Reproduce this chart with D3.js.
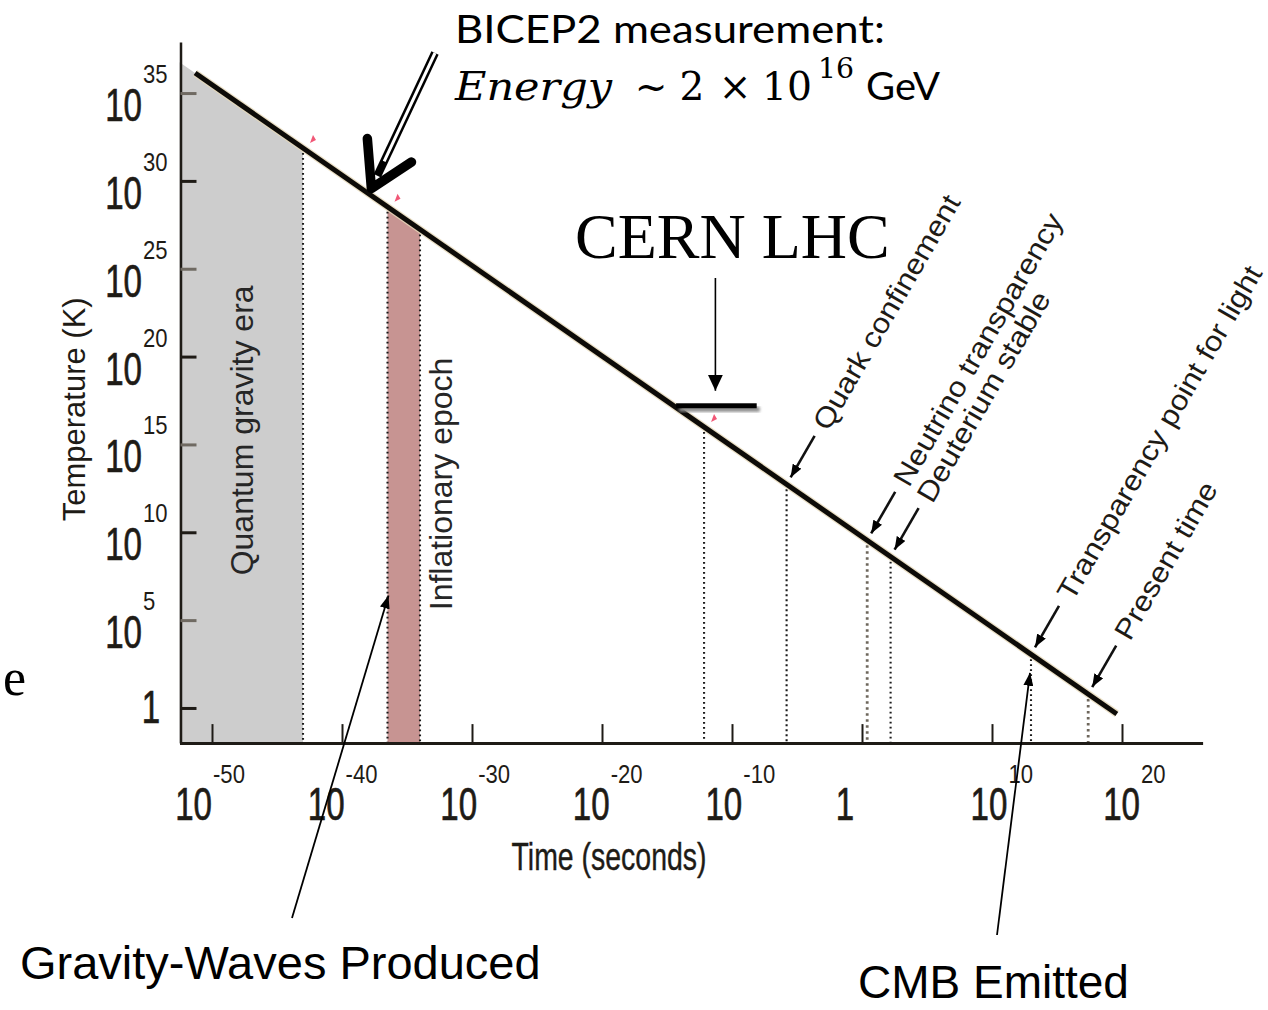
<!DOCTYPE html>
<html>
<head>
<meta charset="utf-8">
<script src="https://cdn.jsdelivr.net/npm/d3@7"></script>
<style>
  html, body { margin: 0; padding: 0; background: #fff; }
  svg { display: block; }
</style>
</head>
<body>
<svg id="chart" width="1268" height="1010"></svg>
<script>
// Temperature of the universe against time since the Big Bang (log10 units)
const timeTicks = [-50, -40, -30, -20, -10, 0, 10, 20];      // log10 seconds
const tempTicks = [0, 5, 10, 15, 20, 25, 30, 35];            // log10 kelvin

// Cooling line end points: log10 time (s) and log10 temperature (K)
const coolingTime = [-51.3, 19.6];
const coolingTemp = [36.14, -0.34];

// Shaded eras, [start, end] in log10 seconds
const quantumGravityEra = [-52.5, -43.0];
const inflationaryEpoch = [-36.5, -34.0];

// Labelled epochs along the line
const eventNames = ["Quark confinement", "Neutrino transparency", "Deuterium stable",
                    "Transparency point for light", "Present time"];
const eventTimes = [-5.8, 0.4, 2.2, 13.0, 17.4];

// Collider reach and the BICEP2 energy scale
const lhcTime = -12.15;          // log10 s
const lhcSpan = [-14.3, -8.1];   // log10 s, extent of the reach bar
const lhcTemp = 17.2;            // log10 K
const bicepTemp = 29.4;          // log10 K  (2e16 GeV)

const svg = d3.select("#chart");
const ink = "#1e1b16";
const axisFont = "'Liberation Sans', Arial, Helvetica, sans-serif";

const x = d3.scaleLinear().domain([-52.5, 26.2]).range([179.5, 1202.6]);
const y = d3.scaleLinear().domain([-2.0, 37.9]).range([743.1, 42.1]);
// tick labels sit on a slightly wider spacing than the tick marks
const xl = d3.scaleLinear().domain([-50, 20]).range([212, 1140]);
// straight cooling law, extended beyond its end points where needed
const cool = d3.scaleLinear().domain(coolingTime).range(coolingTemp);
const onLine = t => [x(t), y(cool(t))];

const defs = svg.append("defs");
function head(id, len, wid) {
  defs.append("marker")
    .attr("id", id).attr("markerUnits", "userSpaceOnUse")
    .attr("viewBox", `0 0 ${len} ${wid}`)
    .attr("refX", len).attr("refY", wid / 2)
    .attr("markerWidth", len).attr("markerHeight", wid)
    .attr("orient", "auto")
    .append("path").attr("d", `M0,0L${len},${wid / 2}L0,${wid}Z`).attr("fill", "#000");
}
head("headSmall", 13, 10);
head("headEvent", 13, 10);
head("headCern", 16, 15);
defs.append("filter").attr("id", "soft").append("feGaussianBlur").attr("stdDeviation", 1.6);

// ---- shaded eras ----
const band = d3.area().x(d => x(d)).y0(y(-2)).y1(d => y(cool(d)));
svg.append("path").datum(quantumGravityEra).attr("d", band).attr("fill", "#cdcdcd");
svg.append("path").datum(inflationaryEpoch).attr("d", band).attr("fill", "#c79492");

// ---- dotted drop lines from the cooling line to the time axis ----
const heavy = new Set(["Neutrino transparency", "Present time"]);
const drops = [
  { t: quantumGravityEra[1], heavy: false },
  { t: inflationaryEpoch[0], heavy: false },
  { t: inflationaryEpoch[1], heavy: false },
  { t: lhcTime, heavy: false },
  ...eventTimes.map((t, i) => ({ t, heavy: heavy.has(eventNames[i]) }))
];
svg.append("g").selectAll("line").data(drops).join("line")
  .attr("x1", d => x(d.t)).attr("x2", d => x(d.t))
  .attr("y1", d => y(cool(d.t)) + 5).attr("y2", y(-2) - 1)
  .attr("stroke", d => d.heavy ? "#6e675c" : "#1a1a1a")
  .attr("stroke-width", d => d.heavy ? 2.8 : 2.1)
  .attr("stroke-dasharray", d => d.heavy ? "2.4 3.6" : "1.8 3.2");

// ---- era captions ----
svg.append("text")
  .attr("transform", `translate(253,${y(15.8)}) rotate(-90)`)
  .attr("text-anchor", "middle").attr("font-family", axisFont).attr("font-size", 32)
  .attr("fill", "#262626").text("Quantum gravity era");
svg.append("text")
  .attr("transform", `translate(452,${y(12.75)}) rotate(-90)`)
  .attr("text-anchor", "middle").attr("font-family", axisFont).attr("font-size", 32)
  .attr("fill", "#262626").text("Inflationary epoch");

// ---- cooling line ----
const lineGen = d3.line().x(d => x(d[0])).y(d => y(d[1]));
const linePts = coolingTime.map((t, i) => [t, coolingTemp[i]]);
svg.append("path").datum(linePts).attr("d", lineGen)
  .attr("fill", "none").attr("stroke", "#e6d8b8").attr("stroke-width", 7.5).attr("opacity", 0.8);
svg.append("path").datum(linePts).attr("d", lineGen)
  .attr("fill", "none").attr("stroke", "#0d0b08").attr("stroke-width", 5);

// small red pen marks beside three of the epochs
[quantumGravityEra[1], inflationaryEpoch[0], lhcTime].forEach(t => {
  const [px, py] = onLine(t);
  svg.append("path")
    .attr("d", `M${px + 7},${py - 5}l3,-8l3,5z`)
    .attr("fill", "#ee3a5e").attr("opacity", 0.85);
});

// ---- axes ----
const xAxis = d3.axisBottom(x).tickValues(timeTicks)
  .tickSizeInner(-19).tickSizeOuter(0).tickFormat(() => "");
const gx = svg.append("g").attr("transform", `translate(0,${y(-2)})`).call(xAxis);
gx.select(".domain").attr("stroke", ink).attr("stroke-width", 3);
gx.selectAll(".tick line").attr("stroke", ink).attr("stroke-width", 2);

const yAxis = d3.axisLeft(y).tickValues(tempTicks)
  .tickSizeInner(-16).tickSizeOuter(0).tickFormat(() => "");
const gy = svg.append("g").attr("transform", "translate(180.5,0)").call(yAxis);
gy.select(".domain").attr("stroke", ink).attr("stroke-width", 2.5);
gy.selectAll(".tick line")
  .attr("stroke", d => (d % 10 === 0 ? ink : "#6f6a62")).attr("stroke-width", 3);

// power-of-ten tick labels
function power(g, px, py, exp, supDy) {
  const base = exp === 0 ? "1" : "10";
  g.append("text")
    .attr("transform", `translate(${px},${py}) scale(0.72,1)`)
    .attr("text-anchor", exp === 0 ? "middle" : "end")
    .attr("font-family", axisFont).attr("font-size", 46).attr("fill", ink)
    .attr("stroke", ink).attr("stroke-width", 0.7)
    .text(base);
  if (exp !== 0) {
    g.append("text")
      .attr("transform", `translate(${px + 1},${py + supDy}) scale(0.85,1)`)
      .attr("font-family", axisFont).attr("font-size", 26).attr("fill", ink)
      .text(exp);
  }
}
const xLabels = svg.append("g");
timeTicks.forEach(t => power(xLabels, t === 0 ? xl(t) - 30 : xl(t), 820, t, -37));
const yLabels = svg.append("g");
tempTicks.forEach(v => {
  if (v === 0) power(yLabels, 151, y(v) + 15, 0, 0);
  else power(yLabels, 142, y(v) + 28, v, -38);
});

svg.append("text")
  .attr("transform", "translate(609,870) scale(0.73,1)")
  .attr("text-anchor", "middle").attr("font-family", axisFont).attr("font-size", 39)
  .attr("fill", ink).attr("stroke", ink).attr("stroke-width", 0.4).text("Time (seconds)");
svg.append("text")
  .attr("transform", `translate(85,${y(17)}) rotate(-90)`)
  .attr("text-anchor", "middle").attr("font-family", axisFont).attr("font-size", 31)
  .attr("fill", ink).text("Temperature (K)");

// ---- epoch labels with short arrows ----
eventNames.forEach((name, i) => {
  const [px, py] = onLine(eventTimes[i]);
  const g = svg.append("g").attr("transform", `translate(${px},${py}) rotate(-60)`);
  g.append("line").attr("x1", 56).attr("y1", 0).attr("x2", 8).attr("y2", 0)
    .attr("stroke", "#111").attr("stroke-width", 2.6).attr("marker-end", "url(#headEvent)");
  g.append("text").attr("transform", "translate(66,0) scale(1,0.9)").attr("dy", "0.36em")
    .attr("font-family", axisFont).attr("font-size", 31.5).attr("fill", ink)
    .text(name);
});

// ---- CERN LHC reach ----
const lhcX = (x(lhcSpan[0]) + x(lhcSpan[1])) / 2;
svg.append("rect")
  .attr("x", x(lhcSpan[0]) + 3).attr("y", y(lhcTemp) + 1)
  .attr("width", x(lhcSpan[1]) - x(lhcSpan[0])).attr("height", 5)
  .attr("fill", "#8a8a8a").attr("filter", "url(#soft)");
svg.append("rect")
  .attr("x", x(lhcSpan[0])).attr("y", y(lhcTemp) - 2.5)
  .attr("width", x(lhcSpan[1]) - x(lhcSpan[0])).attr("height", 5)
  .attr("fill", "#000");
svg.append("line")
  .attr("x1", lhcX - 1).attr("x2", lhcX - 1).attr("y1", 278).attr("y2", y(lhcTemp) - 15)
  .attr("stroke", "#000").attr("stroke-width", 1.6).attr("marker-end", "url(#headCern)");
svg.append("text")
  .attr("x", 575).attr("y", 258)
  .attr("font-family", "'Liberation Serif', 'Times New Roman', serif").attr("font-size", 64)
  .attr("fill", "#000").text("CERN LHC");

// ---- BICEP2 energy scale ----
const tB = cool.invert(bicepTemp);
const tip = [x(tB) + 6, y(bicepTemp) - 3];
const tail = [435, 53];
const len = Math.hypot(tail[0] - tip[0], tail[1] - tip[1]);
const u = [(tail[0] - tip[0]) / len, (tail[1] - tip[1]) / len];
const at = d => [tip[0] + u[0] * d, tip[1] + u[1] * d];
const rot = (v, a) => [v[0] * Math.cos(a) - v[1] * Math.sin(a), v[0] * Math.sin(a) + v[1] * Math.cos(a)];
const s0 = at(14), s1 = at(30);
svg.append("line").attr("x1", tail[0]).attr("y1", tail[1]).attr("x2", s0[0]).attr("y2", s0[1])
  .attr("stroke", "#000").attr("stroke-width", 8);
svg.append("line").attr("x1", tail[0]).attr("y1", tail[1]).attr("x2", s1[0]).attr("y2", s1[1])
  .attr("stroke", "#fff").attr("stroke-width", 3);
const a1 = rot(u, -0.52), a2 = rot(u, 0.55);
svg.append("path")
  .attr("d", `M${tip[0] + a1[0] * 50},${tip[1] + a1[1] * 50}L${tip[0]},${tip[1]}L${tip[0] + a2[0] * 48},${tip[1] + a2[1] * 48}`)
  .attr("fill", "none").attr("stroke", "#000").attr("stroke-width", 9.5)
  .attr("stroke-linecap", "round").attr("stroke-linejoin", "round");

const sansTitle = "Lato, 'Open Sans', sans-serif";
const mathFont = "'DejaVu Serif', 'Liberation Serif', serif";
svg.append("text").attr("x", 455).attr("y", 43)
  .attr("font-family", sansTitle).attr("font-size", 39)
  .attr("textLength", 430).attr("lengthAdjust", "spacingAndGlyphs")
  .attr("fill", "#000").text("BICEP2 measurement:");
svg.append("text").attr("x", 455).attr("y", 100)
  .attr("font-family", mathFont).attr("font-style", "italic").attr("font-size", 39)
  .attr("textLength", 157).attr("lengthAdjust", "spacingAndGlyphs")
  .attr("fill", "#000").text("Energy");
[["~", 651], ["2", 692], ["\u00d7", 735]].forEach(([s, cx]) =>
  svg.append("text").attr("x", cx).attr("y", 100).attr("text-anchor", "middle")
    .attr("font-family", mathFont).attr("font-size", 39).attr("fill", "#000").text(s));
svg.append("text").attr("x", 762).attr("y", 100)
  .attr("font-family", mathFont).attr("font-size", 39)
  .attr("textLength", 50).attr("lengthAdjust", "spacingAndGlyphs")
  .attr("fill", "#000").text("10");
svg.append("text").attr("x", 818).attr("y", 78)
  .attr("font-family", mathFont).attr("font-size", 27)
  .attr("textLength", 36).attr("lengthAdjust", "spacingAndGlyphs")
  .attr("fill", "#000").text("16");
svg.append("text").attr("x", 866).attr("y", 100)
  .attr("font-family", sansTitle).attr("font-size", 39)
  .attr("textLength", 74).attr("lengthAdjust", "spacingAndGlyphs")
  .attr("fill", "#000").text("GeV");

// ---- callouts below the chart ----
const bodyFont = "'Liberation Sans', Arial, sans-serif";
const gwTip = [x(inflationaryEpoch[0]) + 1, y(6.4)];
svg.append("line").attr("x1", 292).attr("y1", 918).attr("x2", gwTip[0]).attr("y2", gwTip[1])
  .attr("stroke", "#000").attr("stroke-width", 1.8).attr("marker-end", "url(#headSmall)");
svg.append("text").attr("x", 20).attr("y", 979)
  .attr("font-family", bodyFont).attr("font-size", 47).attr("fill", "#000")
  .text("Gravity-Waves Produced");

const cmbTip = [x(eventTimes[3]) - 1, y(2.0)];
svg.append("line").attr("x1", 997).attr("y1", 935).attr("x2", cmbTip[0]).attr("y2", cmbTip[1])
  .attr("stroke", "#000").attr("stroke-width", 1.8).attr("marker-end", "url(#headSmall)");
svg.append("text").attr("x", 858).attr("y", 998)
  .attr("font-family", bodyFont).attr("font-size", 46).attr("fill", "#000")
  .text("CMB Emitted");

// trailing letter at the left margin
svg.append("text").attr("x", 3).attr("y", 695)
  .attr("font-family", "'Liberation Serif', serif").attr("font-size", 52).attr("fill", "#000")
  .text("e");
</script>
</body>
</html>
